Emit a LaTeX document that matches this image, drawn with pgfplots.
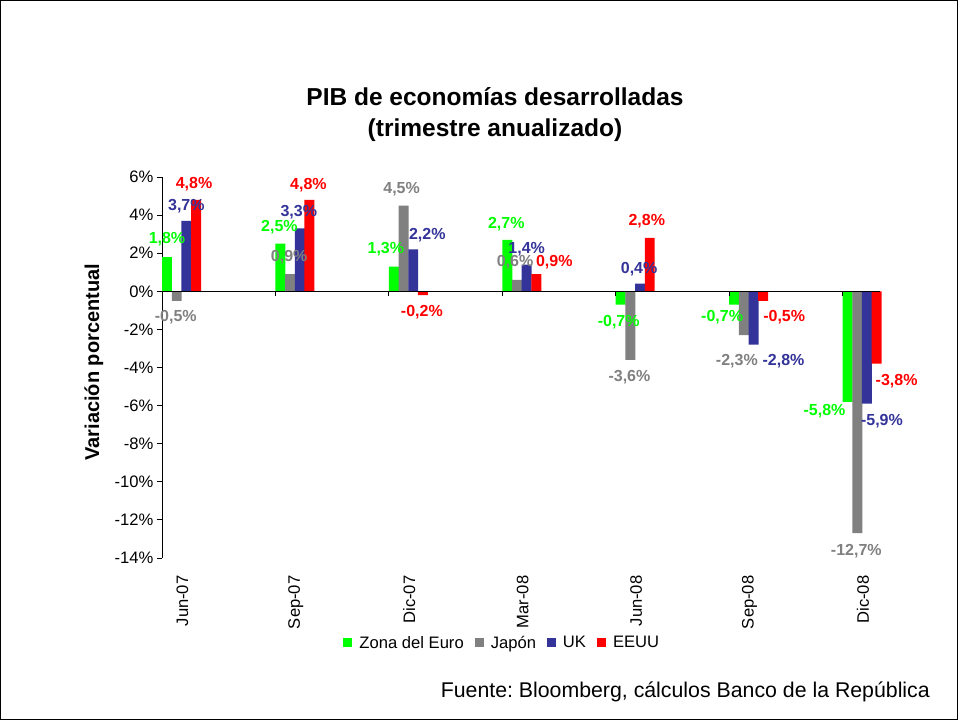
\documentclass[border=0pt]{standalone}
\usepackage{fontspec}
\setmainfont{Liberation Sans}
\usepackage{pgfplots}
\usepackage{pgfplotstable}
\pgfplotsset{compat=1.18}
\frenchspacing
\definecolor{cEu}{RGB}{0,255,0}
\definecolor{cJp}{RGB}{128,128,128}
\definecolor{cUk}{RGB}{51,51,153}
\definecolor{cUs}{RGB}{255,0,0}
% values, and label offsets (dx right, dy up, in pt from bar centre / bar end)
\pgfplotstableread{
x eu  dxeu dyeu jp    dxjp dyjp uk   dxuk dyuk us   dxus dyus
0 1.8  0   17.7 -0.5  -1  -16.5 3.7   0   14.5 4.8  -2   15.6
1 2.5 -1   16.4  0.9  -1   17   3.3  -1   16   4.8  -1   14.6
2 1.3 -8   17    4.5  -2   16   2.2  14   14  -0.2  -1  -17
3 2.7 -1   15.6  0.6  -2   17.6 1.4   0   15.3 0.9  18   12
4 -0.7 -2 -17.7 -3.6  -1  -17.4 0.4  -1   14.4 2.8  -3   16.7
5 -0.7 -12 -12.7 -2.3 -7  -26  -2.8  30  -17  -0.5  21  -16.5
6 -5.8 -23 -9.5 -12.7 -1  -18  -5.9  15  -17.6 -3.8 20  -17.6
}\gdpdata
\pgfplotsset{sqleg/.style={legend image code/.code={\fill[#1] (0pt,-4.5pt) rectangle (9pt,4.5pt);}}}
\begin{document}
\begin{tikzpicture}
\useasboundingbox (0pt,0pt) rectangle (958pt,720pt);
\begin{axis}[
  at={(162pt,162pt)}, anchor=south west,
  scale only axis, width=718pt, height=381pt,
  xmin=0, xmax=6.33, ymin=-14, ymax=6,
  axis y line*=left, axis x line*=bottom,
  x axis line style={draw=none},
  y axis line style={black, line width=0.8pt},
  xtick={0.18,1.18,2.18,3.18,4.18,5.18,6.18},
  xticklabels={Jun-07,Sep-07,Dic-07,Mar-08,Jun-08,Sep-08,Dic-08},
  x tick style={draw=none},
  xticklabel shift=9pt,
  xticklabel style={rotate=90, anchor=east, font=\fontsize{16.6}{19}\selectfont},
  ytick={-14,-12,...,6},
  yticklabel={\pgfmathprintnumber{\tick}\%},
  y tick style={black, line width=0.8pt},
  tick align=outside, major tick length=5pt,
  yticklabel style={font=\fontsize{16.6}{19}\selectfont},
  /pgf/number format/assume math mode=true,
  ylabel={Variación porcentual},
  ylabel style={at={(axis description cs:-0.095,0.514)}, anchor=center, font=\bfseries\fontsize{20}{24}\selectfont},
  nodes near coords={\pgfmathprintnumber[fixed,fixed zerofill,precision=1,use comma]{\pgfplotspointmeta}\%},
  point meta=y,
  legend style={at={(axis description cs:0.474,-0.223)}, anchor=center, draw=none, fill=none,
    legend columns=4, font=\fontsize{16.6}{20}\selectfont,
    /tikz/every even column/.append style={column sep=9pt},
    /tikz/every odd column/.append style={column sep=5pt}},
  clip=false,
]
\addplot[ybar, bar width=0.088, bar shift=0pt, fill=cEu, draw=none, sqleg=cEu,
  visualization depends on={\thisrow{dxeu} \as \dx},
  visualization depends on={\thisrow{dyeu} \as \dy},
  every node near coord/.append style={text=cEu, anchor=center, xshift=\dx pt, yshift=\dy pt, font=\bfseries\fontsize{16}{19}\selectfont}]
  table[x expr=\thisrow{x}+0.044, y=eu] {\gdpdata};
\addlegendentry{Zona del Euro}
\addplot[ybar, bar width=0.088, bar shift=0pt, fill=cJp, draw=none, sqleg=cJp,
  visualization depends on={\thisrow{dxjp} \as \dx},
  visualization depends on={\thisrow{dyjp} \as \dy},
  every node near coord/.append style={text=cJp, anchor=center, xshift=\dx pt, yshift=\dy pt, font=\bfseries\fontsize{16}{19}\selectfont}]
  table[x expr=\thisrow{x}+0.13, y=jp] {\gdpdata};
\addlegendentry{Japón}
\addplot[ybar, bar width=0.088, bar shift=0pt, fill=cUk, draw=none, sqleg=cUk,
  visualization depends on={\thisrow{dxuk} \as \dx},
  visualization depends on={\thisrow{dyuk} \as \dy},
  every node near coord/.append style={text=cUk, anchor=center, xshift=\dx pt, yshift=\dy pt, font=\bfseries\fontsize{16}{19}\selectfont}]
  table[x expr=\thisrow{x}+0.215, y=uk] {\gdpdata};
\addlegendentry{UK}
\addplot[ybar, bar width=0.088, bar shift=0pt, fill=cUs, draw=none, sqleg=cUs,
  visualization depends on={\thisrow{dxus} \as \dx},
  visualization depends on={\thisrow{dyus} \as \dy},
  every node near coord/.append style={text=cUs, anchor=center, xshift=\dx pt, yshift=\dy pt, font=\bfseries\fontsize{16}{19}\selectfont}]
  table[x expr=\thisrow{x}+0.30, y=us] {\gdpdata};
\addlegendentry{EEUU}
\draw[black, line width=0.8pt] (axis cs:0,0) -- (axis cs:6.33,0);
\pgfplotsinvokeforeach{0,...,6}{\draw[black, line width=0.8pt] (axis cs:#1,0) -- ++(0pt,-5pt);}
\end{axis}
\node[font=\bfseries\fontsize{24.5}{30}\selectfont, anchor=base] at (495pt,614pt) {PIB de economías desarrolladas};
\node[font=\bfseries\fontsize{24.5}{30}\selectfont, anchor=base] at (495pt,583pt) {(trimestre anualizado)};
\node[anchor=base east, font=\fontsize{21.3}{25}\selectfont, inner sep=0pt] at (930pt,23pt) {Fuente: Bloomberg, cálculos Banco de la República};
\draw[black, line width=1pt] (0.5pt,0.5pt) rectangle (957.5pt,719.5pt);
\end{tikzpicture}
\end{document}
